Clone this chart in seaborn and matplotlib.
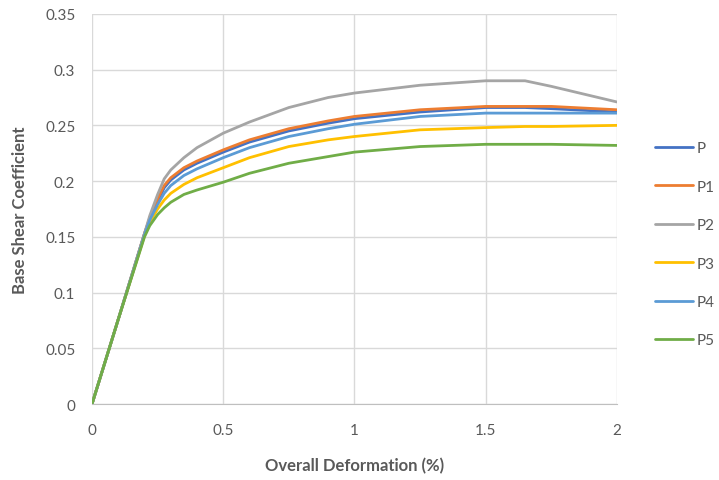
import numpy as np
import pandas as pd
import matplotlib
matplotlib.use("Agg")
import matplotlib.pyplot as plt
import seaborn as sns

# ── Data ─────────────────────────────────────────────────────────────────────
deformation = [0, 0.1, 0.2, 0.22, 0.25, 0.275, 0.3, 0.35, 0.4, 0.5, 0.6, 0.75, 0.9,
               1.0, 1.25, 1.5, 1.65, 1.75, 2.0]

P  = [0, 0.076, 0.153, 0.166, 0.182, 0.194, 0.201, 0.210, 0.216, 0.226, 0.235, 0.245, 0.252,
      0.256, 0.262, 0.266, 0.266, 0.265, 0.262]
P1 = [0, 0.076, 0.153, 0.167, 0.184, 0.196, 0.203, 0.212, 0.218, 0.228, 0.237, 0.247, 0.254,
      0.258, 0.264, 0.267, 0.267, 0.267, 0.264]
P2 = [0, 0.076, 0.153, 0.169, 0.188, 0.202, 0.210, 0.221, 0.230, 0.243, 0.253, 0.266, 0.275,
      0.279, 0.286, 0.290, 0.290, 0.285, 0.271]
P3 = [0, 0.076, 0.151, 0.163, 0.175, 0.183, 0.189, 0.197, 0.203, 0.212, 0.221, 0.231, 0.237,
      0.240, 0.246, 0.248, 0.249, 0.249, 0.250]
P4 = [0, 0.076, 0.152, 0.165, 0.179, 0.189, 0.196, 0.205, 0.211, 0.221, 0.230, 0.240, 0.247,
      0.251, 0.258, 0.261, 0.261, 0.261, 0.261]
P5 = [0, 0.076, 0.150, 0.160, 0.170, 0.176, 0.181, 0.188, 0.192, 0.199, 0.207, 0.216, 0.222,
      0.226, 0.231, 0.233, 0.233, 0.233, 0.232]

series_names = ["P", "P1", "P2", "P3", "P4", "P5"]
series_values = [P, P1, P2, P3, P4, P5]
colors = ["#4472C4", "#ED7D31", "#A5A5A5", "#FFC000", "#5B9BD5", "#70AD47"]

x_ticks = [0, 0.5, 1, 1.5, 2]
x_tick_labels = ["0", "0.5", "1", "1.5", "2"]
y_ticks = [0, 0.05, 0.1, 0.15, 0.2, 0.25, 0.3, 0.35]
y_tick_labels = ["0", "0.05", "0.1", "0.15", "0.2", "0.25", "0.3", "0.35"]

df = pd.concat(
    [pd.DataFrame({"x": deformation, "y": vals, "series": name})
     for name, vals in zip(series_names, series_values)],
    ignore_index=True,
)

# ── Plot ──────────────────────────────────────────────────────────────────────
sns.set_style("white")
plt.rcParams["font.family"] = ["Lato", "DejaVu Sans"]

fig = plt.figure(figsize=(7.19, 4.81), dpi=100)
ax = fig.add_axes([0.128, 0.158, 0.730, 0.811])

sns.lineplot(
    data=df, x="x", y="y", hue="series",
    palette=dict(zip(series_names, colors)),
    linewidth=2.0, ax=ax, sort=False,
)

ax.set_xlim(0, 2)
ax.set_ylim(0, 0.35)
ax.set_xticks(x_ticks)
ax.set_xticklabels(x_tick_labels)
ax.set_yticks(y_ticks)
ax.set_yticklabels(y_tick_labels)
ax.tick_params(axis="both", length=0, labelsize=11, colors="#595959", pad=14)
ax.tick_params(axis="y", pad=12)

ax.grid(True, color="#D9D9D9", linewidth=1)
ax.set_axisbelow(True)
for side in ["top", "right", "left"]:
    ax.spines[side].set_visible(False)
ax.spines["bottom"].set_color("#BFBFBF")

ax.set_xlabel("Overall Deformation (%)", fontsize=12, fontweight="bold",
              color="#595959", labelpad=14)
ax.set_ylabel("Base Shear Coefficient", fontsize=12, fontweight="bold",
              color="#595959", labelpad=12)

# legend sits to the right of the plot, Excel style
handles, labels = ax.get_legend_handles_labels()
ax.legend(
    handles, labels, loc="center left", bbox_to_anchor=(0.911, 0.49),
    bbox_transform=fig.transFigure, frameon=False, fontsize=11,
    borderaxespad=0, borderpad=0,
    handlelength=2.5, handletextpad=0.25, labelspacing=1.6,
    labelcolor="#595959",
)

fig.savefig("out.png", dpi=100)
